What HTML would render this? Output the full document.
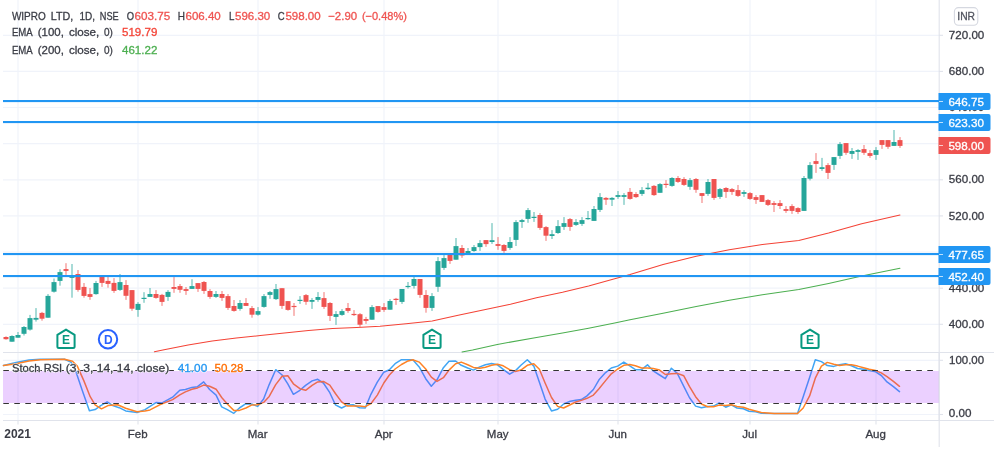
<!DOCTYPE html>
<html><head><meta charset="utf-8"><title>WIPRO LTD chart</title>
<style>
html,body{margin:0;padding:0;background:#fff;width:997px;height:453px;overflow:hidden}
body{font-family:"Liberation Sans",sans-serif}
svg{filter:blur(0.35px)}
</style></head><body>
<svg width="997" height="453" viewBox="0 0 997 453" style="display:block;font-family:'Liberation Sans',sans-serif">
<rect width="997" height="453" fill="#fff"/>
<g stroke="#f0f3fa" stroke-width="1.2" fill="none"><path d="M18 0V420"/><path d="M138 0V420"/><path d="M258 0V420"/><path d="M384 0V420"/><path d="M498 0V420"/><path d="M618 0V420"/><path d="M750 0V420"/><path d="M876 0V420"/><path d="M3 35.3H939"/><path d="M3 71.4H939"/><path d="M3 107.5H939"/><path d="M3 143.7H939"/><path d="M3 179.8H939"/><path d="M3 215.9H939"/><path d="M3 252.1H939"/><path d="M3 288.2H939"/><path d="M3 324.3H939"/><path d="M3 360.3H939"/><path d="M3 414.5H939"/></g>
<g stroke="#e0e3eb" stroke-width="1.1" fill="none"><path d="M3 352.5H994"/><path d="M3 420.5H994"/><path d="M939.2 0V447"/><path d="M18 420V424.5"/><path d="M138 420V424.5"/><path d="M258 420V424.5"/><path d="M384 420V424.5"/><path d="M498 420V424.5"/><path d="M618 420V424.5"/><path d="M750 420V424.5"/><path d="M876 420V424.5"/><path d="M939 35.3H943"/><path d="M939 71.4H943"/><path d="M939 107.5H943"/><path d="M939 143.7H943"/><path d="M939 179.8H943"/><path d="M939 215.9H943"/><path d="M939 252.1H943"/><path d="M939 288.2H943"/><path d="M939 324.3H943"/><path d="M939 360.3H943"/><path d="M939 414.5H943"/></g>
<path d="M154.4 351.8 L164.1 349.8 L188.1 345.0 L212.2 340.9 L236.3 338.0 L260.4 335.6 L284.4 333.0 L308.5 330.6 L332.6 328.6 L356.7 327.4 L380.0 326.3 L406.1 323.8 L432.2 320.9 L458.2 315.2 L484.3 309.7 L510.4 304.2 L536.5 297.7 L562.5 292.2 L588.6 286.0 L614.7 278.7 L630.0 274.5 L663.1 264.5 L696.2 256.3 L729.3 249.7 L762.4 244.4 L798.8 240.4 L828.6 233.1 L861.7 223.8 L900.0 215.0" fill="none" stroke="#f44336" stroke-width="1.05" stroke-linejoin="round" stroke-linecap="round"/>
<path d="M462.0 352.0 L472.6 349.9 L497.3 344.4 L536.5 337.4 L562.5 332.9 L588.6 328.2 L614.7 323.0 L630.0 319.8 L663.1 313.2 L696.2 306.6 L729.3 300.3 L762.4 294.7 L798.8 289.4 L828.6 283.4 L861.7 276.1 L900.0 268.3" fill="none" stroke="#4caf50" stroke-width="1.05" stroke-linejoin="round" stroke-linecap="round"/>
<g stroke-width="1" opacity="0.8"><path d="M6 336.3V339.7" stroke="#ef5350"/><path d="M12 335.3V341.7" stroke="#26a69a"/><path d="M18 332.0V337.7" stroke="#26a69a"/><path d="M24 326.0V335.5" stroke="#26a69a"/><path d="M30 314.9V330.6" stroke="#26a69a"/><path d="M36 308.1V321.6" stroke="#26a69a"/><path d="M42 311.9V320.7" stroke="#ef5350"/><path d="M48 294.1V317.7" stroke="#26a69a"/><path d="M54 278.5V292.6" stroke="#26a69a"/><path d="M60 269.2V285.7" stroke="#26a69a"/><path d="M66 263.2V274.9" stroke="#ef5350"/><path d="M72 264.0V297.7" stroke="#26a69a"/><path d="M78 270.0V291.7" stroke="#ef5350"/><path d="M84 283.0V297.7" stroke="#ef5350"/><path d="M90 288.1V299.8" stroke="#ef5350"/><path d="M96 280.9V294.7" stroke="#26a69a"/><path d="M102 276.0V286.9" stroke="#ef5350"/><path d="M108 277.0V287.7" stroke="#ef5350"/><path d="M114 278.1V292.9" stroke="#ef5350"/><path d="M120 274.0V290.9" stroke="#26a69a"/><path d="M126 280.1V299.9" stroke="#ef5350"/><path d="M132 290.1V310.8" stroke="#ef5350"/><path d="M138 302.1V316.8" stroke="#26a69a"/><path d="M144 292.2V302.8" stroke="#26a69a"/><path d="M150 288.0V296.9" stroke="#26a69a"/><path d="M156 290.1V298.7" stroke="#ef5350"/><path d="M162 293.9V305.9" stroke="#ef5350"/><path d="M168 290.1V300.9" stroke="#26a69a"/><path d="M174 277.1V292.8" stroke="#ef5350"/><path d="M180 284.0V292.8" stroke="#ef5350"/><path d="M186 287.0V294.9" stroke="#ef5350"/><path d="M192 279.2V288.9" stroke="#26a69a"/><path d="M198 283.1V291.9" stroke="#ef5350"/><path d="M204 281.0V293.9" stroke="#ef5350"/><path d="M210 289.1V298.8" stroke="#ef5350"/><path d="M216 291.0V297.9" stroke="#26a69a"/><path d="M222 291.0V300.9" stroke="#ef5350"/><path d="M228 294.0V309.9" stroke="#ef5350"/><path d="M234 300.0V311.7" stroke="#ef5350"/><path d="M240 300.0V310.7" stroke="#26a69a"/><path d="M246 298.1V305.9" stroke="#ef5350"/><path d="M252 306.0V317.7" stroke="#ef5350"/><path d="M258 307.1V315.7" stroke="#26a69a"/><path d="M264 294.0V307.7" stroke="#26a69a"/><path d="M270 291.0V298.8" stroke="#26a69a"/><path d="M276 284.0V300.0" stroke="#26a69a"/><path d="M282 288.2V308.9" stroke="#ef5350"/><path d="M288 301.1V310.7" stroke="#ef5350"/><path d="M294 303.0V315.9" stroke="#ef5350"/><path d="M300 296.1V303.9" stroke="#26a69a"/><path d="M306 294.0V304.8" stroke="#ef5350"/><path d="M312 298.1V308.9" stroke="#26a69a"/><path d="M318 292.1V301.8" stroke="#26a69a"/><path d="M324 292.1V308.9" stroke="#ef5350"/><path d="M330 302.1V321.0" stroke="#ef5350"/><path d="M336 311.1V324.9" stroke="#26a69a"/><path d="M342 309.1V315.8" stroke="#26a69a"/><path d="M348 303.0V312.8" stroke="#ef5350"/><path d="M354 310.1V316.0" stroke="#ef5350"/><path d="M360 313.1V326.9" stroke="#ef5350"/><path d="M366 316.9V323.9" stroke="#ef5350"/><path d="M372 305.1V319.7" stroke="#26a69a"/><path d="M378 306.1V312.7" stroke="#ef5350"/><path d="M384 303.1V311.9" stroke="#ef5350"/><path d="M390 299.1V309.7" stroke="#26a69a"/><path d="M396 297.9V304.9" stroke="#ef5350"/><path d="M402 289.0V303.9" stroke="#26a69a"/><path d="M408 282.0V288.6" stroke="#26a69a"/><path d="M414 277.0V288.6" stroke="#26a69a"/><path d="M420 279.0V297.9" stroke="#ef5350"/><path d="M426 290.1V312.7" stroke="#ef5350"/><path d="M432 293.1V310.9" stroke="#26a69a"/><path d="M438 257.1V291.9" stroke="#26a69a"/><path d="M444 255.1V269.9" stroke="#26a69a"/><path d="M450 254.0V263.9" stroke="#ef5350"/><path d="M456 238.0V259.7" stroke="#26a69a"/><path d="M462 245.0V257.9" stroke="#ef5350"/><path d="M468 248.0V254.0" stroke="#26a69a"/><path d="M474 245.0V251.9" stroke="#26a69a"/><path d="M480 240.1V250.9" stroke="#26a69a"/><path d="M486 240.1V246.8" stroke="#ef5350"/><path d="M492 223.1V243.9" stroke="#26a69a"/><path d="M498 237.1V249.8" stroke="#ef5350"/><path d="M504 244.1V252.8" stroke="#ef5350"/><path d="M510 237.1V249.8" stroke="#26a69a"/><path d="M516 220.1V246.0" stroke="#26a69a"/><path d="M522 218.9V227.9" stroke="#26a69a"/><path d="M528 208.0V222.8" stroke="#26a69a"/><path d="M534 212.0V221.9" stroke="#26a69a"/><path d="M540 213.1V229.9" stroke="#ef5350"/><path d="M546 226.1V240.9" stroke="#ef5350"/><path d="M552 230.1V239.0" stroke="#26a69a"/><path d="M558 220.1V233.9" stroke="#26a69a"/><path d="M564 217.1V229.9" stroke="#26a69a"/><path d="M570 218.0V230.9" stroke="#ef5350"/><path d="M576 219.1V225.9" stroke="#26a69a"/><path d="M582 217.1V225.9" stroke="#26a69a"/><path d="M588 211.0V219.8" stroke="#26a69a"/><path d="M594 206.0V220.9" stroke="#26a69a"/><path d="M600 193.1V212.0" stroke="#26a69a"/><path d="M606 197.1V204.9" stroke="#ef5350"/><path d="M612 197.1V206.0" stroke="#26a69a"/><path d="M618 191.0V198.9" stroke="#26a69a"/><path d="M624 193.1V204.9" stroke="#26a69a"/><path d="M630 188.0V199.7" stroke="#ef5350"/><path d="M636 192.1V197.9" stroke="#ef5350"/><path d="M642 187.1V195.9" stroke="#26a69a"/><path d="M648 183.1V189.8" stroke="#26a69a"/><path d="M654 185.0V195.9" stroke="#ef5350"/><path d="M660 183.1V192.8" stroke="#26a69a"/><path d="M666 180.1V187.9" stroke="#ef5350"/><path d="M672 177.1V186.8" stroke="#26a69a"/><path d="M678 176.0V182.9" stroke="#ef5350"/><path d="M684 177.1V185.9" stroke="#ef5350"/><path d="M690 178.0V189.8" stroke="#26a69a"/><path d="M696 178.0V192.8" stroke="#ef5350"/><path d="M702 193.1V203.0" stroke="#ef5350"/><path d="M708 179.0V195.9" stroke="#26a69a"/><path d="M714 179.0V199.9" stroke="#ef5350"/><path d="M720 188.0V198.9" stroke="#26a69a"/><path d="M726 187.1V197.9" stroke="#ef5350"/><path d="M732 188.0V194.9" stroke="#ef5350"/><path d="M738 185.0V196.9" stroke="#ef5350"/><path d="M744 190.1V196.9" stroke="#26a69a"/><path d="M750 192.1V199.9" stroke="#ef5350"/><path d="M756 195.1V203.9" stroke="#ef5350"/><path d="M762 195.1V201.9" stroke="#ef5350"/><path d="M768 199.1V206.0" stroke="#ef5350"/><path d="M774 201.1V212.0" stroke="#ef5350"/><path d="M780 200.1V209.0" stroke="#ef5350"/><path d="M786 206.1V212.9" stroke="#ef5350"/><path d="M792 204.2V213.9" stroke="#ef5350"/><path d="M798 207.2V213.9" stroke="#ef5350"/><path d="M804 176.0V210.9" stroke="#26a69a"/><path d="M810 162.1V180.4" stroke="#26a69a"/><path d="M816 153.1V172.9" stroke="#ef5350"/><path d="M822 157.9V170.9" stroke="#26a69a"/><path d="M828 163.1V179.0" stroke="#ef5350"/><path d="M834 157.1V169.9" stroke="#26a69a"/><path d="M840 142.0V158.9" stroke="#26a69a"/><path d="M846 143.1V154.9" stroke="#ef5350"/><path d="M852 148.0V158.9" stroke="#26a69a"/><path d="M858 149.1V159.9" stroke="#26a69a"/><path d="M864 145.0V154.9" stroke="#ef5350"/><path d="M870 150.1V157.9" stroke="#ef5350"/><path d="M876 147.1V159.9" stroke="#26a69a"/><path d="M882 140.1V148.9" stroke="#ef5350"/><path d="M888 140.1V148.9" stroke="#ef5350"/><path d="M894 130.0V145.9" stroke="#26a69a"/><path d="M900 137.1V147.9" stroke="#ef5350"/></g>
<g><rect x="3.5" y="337.0" width="5" height="2.2" fill="#ef5350"/><rect x="9.5" y="336.0" width="5" height="5.7" fill="#26a69a"/><rect x="15.5" y="335.0" width="5" height="2.7" fill="#26a69a"/><rect x="21.5" y="327.0" width="5" height="6.8" fill="#26a69a"/><rect x="27.5" y="318.1" width="5" height="11.5" fill="#26a69a"/><rect x="33.5" y="317.9" width="5" height="1.8" fill="#26a69a"/><rect x="39.5" y="312.9" width="5" height="5.8" fill="#ef5350"/><rect x="45.5" y="295.9" width="5" height="21.8" fill="#26a69a"/><rect x="51.5" y="282.1" width="5" height="9.6" fill="#26a69a"/><rect x="57.5" y="272.1" width="5" height="8.8" fill="#26a69a"/><rect x="63.5" y="269.1" width="5" height="1.8" fill="#ef5350"/><rect x="69.5" y="276.4" width="5" height="1.5" fill="#26a69a"/><rect x="75.5" y="274.0" width="5" height="15.9" fill="#ef5350"/><rect x="81.5" y="286.9" width="5" height="9.0" fill="#ef5350"/><rect x="87.5" y="294.1" width="5" height="2.8" fill="#ef5350"/><rect x="93.5" y="283.0" width="5" height="11.1" fill="#26a69a"/><rect x="99.5" y="276.0" width="5" height="6.9" fill="#ef5350"/><rect x="105.5" y="280.9" width="5" height="3.0" fill="#ef5350"/><rect x="111.5" y="282.9" width="5" height="8.0" fill="#ef5350"/><rect x="117.5" y="282.1" width="5" height="7.8" fill="#26a69a"/><rect x="123.5" y="285.0" width="5" height="10.8" fill="#ef5350"/><rect x="129.5" y="290.1" width="5" height="18.6" fill="#ef5350"/><rect x="135.5" y="303.9" width="5" height="6.0" fill="#26a69a"/><rect x="141.5" y="297.8" width="5" height="1.2" fill="#26a69a"/><rect x="147.5" y="294.0" width="5" height="2.9" fill="#26a69a"/><rect x="153.5" y="294.0" width="5" height="3.9" fill="#ef5350"/><rect x="159.5" y="294.9" width="5" height="7.0" fill="#ef5350"/><rect x="165.5" y="291.9" width="5" height="5.0" fill="#26a69a"/><rect x="171.5" y="287.0" width="5" height="1.9" fill="#ef5350"/><rect x="177.5" y="286.1" width="5" height="3.7" fill="#ef5350"/><rect x="183.5" y="289.1" width="5" height="1.8" fill="#ef5350"/><rect x="189.5" y="286.1" width="5" height="2.8" fill="#26a69a"/><rect x="195.5" y="283.1" width="5" height="5.8" fill="#ef5350"/><rect x="201.5" y="282.0" width="5" height="8.9" fill="#ef5350"/><rect x="207.5" y="291.0" width="5" height="5.9" fill="#ef5350"/><rect x="213.5" y="294.0" width="5" height="2.9" fill="#26a69a"/><rect x="219.5" y="294.0" width="5" height="3.9" fill="#ef5350"/><rect x="225.5" y="296.1" width="5" height="11.8" fill="#ef5350"/><rect x="231.5" y="306.0" width="5" height="4.9" fill="#ef5350"/><rect x="237.5" y="303.0" width="5" height="5.9" fill="#26a69a"/><rect x="243.5" y="303.0" width="5" height="2.9" fill="#ef5350"/><rect x="249.5" y="308.1" width="5" height="6.6" fill="#ef5350"/><rect x="255.5" y="311.1" width="5" height="3.6" fill="#26a69a"/><rect x="261.5" y="296.1" width="5" height="10.8" fill="#26a69a"/><rect x="267.5" y="292.1" width="5" height="2.8" fill="#26a69a"/><rect x="273.5" y="289.1" width="5" height="10.0" fill="#26a69a"/><rect x="279.5" y="288.2" width="5" height="17.7" fill="#ef5350"/><rect x="285.5" y="301.1" width="5" height="8.8" fill="#ef5350"/><rect x="291.5" y="305.9" width="5" height="1.2" fill="#ef5350"/><rect x="297.5" y="299.8" width="5" height="1.2" fill="#26a69a"/><rect x="303.5" y="295.1" width="5" height="6.7" fill="#ef5350"/><rect x="309.5" y="300.0" width="5" height="1.8" fill="#26a69a"/><rect x="315.5" y="297.0" width="5" height="2.9" fill="#26a69a"/><rect x="321.5" y="298.1" width="5" height="8.8" fill="#ef5350"/><rect x="327.5" y="303.0" width="5" height="12.9" fill="#ef5350"/><rect x="333.5" y="314.1" width="5" height="2.8" fill="#26a69a"/><rect x="339.5" y="311.1" width="5" height="3.8" fill="#26a69a"/><rect x="345.5" y="308.0" width="5" height="2.9" fill="#ef5350"/><rect x="351.5" y="313.9" width="5" height="1.2" fill="#ef5350"/><rect x="357.5" y="314.2" width="5" height="10.5" fill="#ef5350"/><rect x="363.5" y="319.0" width="5" height="1.9" fill="#ef5350"/><rect x="369.5" y="307.1" width="5" height="12.6" fill="#26a69a"/><rect x="375.5" y="306.1" width="5" height="5.8" fill="#ef5350"/><rect x="381.5" y="307.1" width="5" height="2.8" fill="#ef5350"/><rect x="387.5" y="301.0" width="5" height="8.7" fill="#26a69a"/><rect x="393.5" y="298.8" width="5" height="1.2" fill="#ef5350"/><rect x="399.5" y="289.0" width="5" height="12.9" fill="#26a69a"/><rect x="405.5" y="285.9" width="5" height="1.2" fill="#26a69a"/><rect x="411.5" y="279.0" width="5" height="6.9" fill="#26a69a"/><rect x="417.5" y="279.0" width="5" height="15.9" fill="#ef5350"/><rect x="423.5" y="295.0" width="5" height="12.9" fill="#ef5350"/><rect x="429.5" y="296.1" width="5" height="11.8" fill="#26a69a"/><rect x="435.5" y="261.1" width="5" height="25.7" fill="#26a69a"/><rect x="441.5" y="258.1" width="5" height="9.8" fill="#26a69a"/><rect x="447.5" y="254.0" width="5" height="6.9" fill="#ef5350"/><rect x="453.5" y="246.1" width="5" height="13.6" fill="#26a69a"/><rect x="459.5" y="248.0" width="5" height="7.5" fill="#ef5350"/><rect x="465.5" y="251.0" width="5" height="2.1" fill="#26a69a"/><rect x="471.5" y="247.1" width="5" height="3.9" fill="#26a69a"/><rect x="477.5" y="243.1" width="5" height="4.0" fill="#26a69a"/><rect x="483.5" y="240.1" width="5" height="4.0" fill="#ef5350"/><rect x="489.5" y="240.2" width="5" height="1.8" fill="#26a69a"/><rect x="495.5" y="244.1" width="5" height="1.8" fill="#ef5350"/><rect x="501.5" y="245.0" width="5" height="5.9" fill="#ef5350"/><rect x="507.5" y="242.0" width="5" height="5.9" fill="#26a69a"/><rect x="513.5" y="222.1" width="5" height="17.8" fill="#26a69a"/><rect x="519.5" y="220.1" width="5" height="1.8" fill="#26a69a"/><rect x="525.5" y="210.1" width="5" height="8.8" fill="#26a69a"/><rect x="531.5" y="216.8" width="5" height="1.2" fill="#26a69a"/><rect x="537.5" y="215.0" width="5" height="12.9" fill="#ef5350"/><rect x="543.5" y="227.1" width="5" height="8.6" fill="#ef5350"/><rect x="549.5" y="234.2" width="5" height="1.8" fill="#26a69a"/><rect x="555.5" y="226.1" width="5" height="6.9" fill="#26a69a"/><rect x="561.5" y="223.1" width="5" height="3.8" fill="#26a69a"/><rect x="567.5" y="219.1" width="5" height="7.8" fill="#ef5350"/><rect x="573.5" y="222.1" width="5" height="2.8" fill="#26a69a"/><rect x="579.5" y="220.1" width="5" height="3.8" fill="#26a69a"/><rect x="585.5" y="218.0" width="5" height="1.2" fill="#26a69a"/><rect x="591.5" y="209.0" width="5" height="11.9" fill="#26a69a"/><rect x="597.5" y="197.1" width="5" height="12.8" fill="#26a69a"/><rect x="603.5" y="197.9" width="5" height="1.8" fill="#ef5350"/><rect x="609.5" y="197.9" width="5" height="1.8" fill="#26a69a"/><rect x="615.5" y="195.1" width="5" height="1.8" fill="#26a69a"/><rect x="621.5" y="195.1" width="5" height="1.8" fill="#26a69a"/><rect x="627.5" y="191.9" width="5" height="7.0" fill="#ef5350"/><rect x="633.5" y="194.0" width="5" height="3.1" fill="#ef5350"/><rect x="639.5" y="190.1" width="5" height="3.8" fill="#26a69a"/><rect x="645.5" y="187.7" width="5" height="1.4" fill="#26a69a"/><rect x="651.5" y="185.9" width="5" height="9.2" fill="#ef5350"/><rect x="657.5" y="184.1" width="5" height="8.7" fill="#26a69a"/><rect x="663.5" y="183.8" width="5" height="1.2" fill="#ef5350"/><rect x="669.5" y="178.0" width="5" height="7.9" fill="#26a69a"/><rect x="675.5" y="178.0" width="5" height="3.9" fill="#ef5350"/><rect x="681.5" y="179.0" width="5" height="5.9" fill="#ef5350"/><rect x="687.5" y="180.1" width="5" height="6.7" fill="#26a69a"/><rect x="693.5" y="179.0" width="5" height="10.8" fill="#ef5350"/><rect x="699.5" y="193.1" width="5" height="2.8" fill="#ef5350"/><rect x="705.5" y="182.0" width="5" height="11.9" fill="#26a69a"/><rect x="711.5" y="179.0" width="5" height="18.9" fill="#ef5350"/><rect x="717.5" y="189.1" width="5" height="7.8" fill="#26a69a"/><rect x="723.5" y="188.0" width="5" height="3.9" fill="#ef5350"/><rect x="729.5" y="189.1" width="5" height="2.8" fill="#ef5350"/><rect x="735.5" y="190.1" width="5" height="5.8" fill="#ef5350"/><rect x="741.5" y="192.1" width="5" height="1.8" fill="#26a69a"/><rect x="747.5" y="193.1" width="5" height="5.8" fill="#ef5350"/><rect x="753.5" y="197.1" width="5" height="2.8" fill="#ef5350"/><rect x="759.5" y="195.1" width="5" height="6.8" fill="#ef5350"/><rect x="765.5" y="200.1" width="5" height="4.8" fill="#ef5350"/><rect x="771.5" y="203.1" width="5" height="1.8" fill="#ef5350"/><rect x="777.5" y="203.1" width="5" height="2.9" fill="#ef5350"/><rect x="783.5" y="209.1" width="5" height="1.8" fill="#ef5350"/><rect x="789.5" y="206.1" width="5" height="4.8" fill="#ef5350"/><rect x="795.5" y="208.1" width="5" height="3.9" fill="#ef5350"/><rect x="801.5" y="178.0" width="5" height="32.9" fill="#26a69a"/><rect x="807.5" y="165.1" width="5" height="13.6" fill="#26a69a"/><rect x="813.5" y="161.1" width="5" height="2.8" fill="#ef5350"/><rect x="819.5" y="167.2" width="5" height="1.8" fill="#26a69a"/><rect x="825.5" y="165.1" width="5" height="7.8" fill="#ef5350"/><rect x="831.5" y="157.1" width="5" height="7.8" fill="#26a69a"/><rect x="837.5" y="144.1" width="5" height="11.8" fill="#26a69a"/><rect x="843.5" y="143.1" width="5" height="9.7" fill="#ef5350"/><rect x="849.5" y="151.0" width="5" height="2.9" fill="#26a69a"/><rect x="855.5" y="150.1" width="5" height="1.8" fill="#26a69a"/><rect x="861.5" y="149.1" width="5" height="3.7" fill="#ef5350"/><rect x="867.5" y="153.1" width="5" height="2.8" fill="#ef5350"/><rect x="873.5" y="150.1" width="5" height="4.8" fill="#26a69a"/><rect x="879.5" y="140.1" width="5" height="4.8" fill="#ef5350"/><rect x="885.5" y="140.1" width="5" height="6.7" fill="#ef5350"/><rect x="891.5" y="142.0" width="5" height="3.9" fill="#26a69a"/><rect x="897.5" y="140.1" width="5" height="5.8" fill="#ef5350"/></g>
<rect x="3" y="100" width="936" height="2.1" fill="#2196f3"/>
<rect x="3" y="121" width="936" height="2.1" fill="#2196f3"/>
<rect x="3" y="253" width="936" height="2.1" fill="#2196f3"/>
<rect x="3" y="275" width="936" height="2.1" fill="#2196f3"/>
<g opacity="0.85"><path d="M3.5 365.6 L16.1 362.6 L29.0 360.0 L40.3 359.3 L64.5 359.3 L70.9 362.1 L75.7 370.9 L82.2 390.3 L89.4 410.7 L95.1 409.6 L100.7 405.6 L107.2 401.9 L112.8 405.6 L119.2 407.7 L125.7 410.9 L137.0 412.5 L145.0 409.6 L150.0 406.4 L156.4 402.4 L162.1 402.9 L172.6 397.2 L179.8 390.3 L185.4 389.5 L191.9 387.4 L197.5 386.7 L203.7 381.9 L209.6 389.5 L216.1 395.1 L221.7 406.9 L227.3 409.6 L233.8 413.3 L239.4 408.0 L245.9 403.7 L251.5 404.0 L257.6 406.4 L263.6 399.1 L269.2 384.6 L275.7 369.7 L282.1 375.0 L287.8 383.8 L293.4 394.3 L299.9 390.3 L305.6 385.4 L312.1 380.9 L317.7 379.3 L323.4 383.0 L329.8 392.7 L335.4 404.8 L341.6 408.0 L347.5 405.1 L353.2 404.8 L359.6 407.7 L365.3 408.0 L370.9 394.3 L377.3 382.2 L383.8 372.2 L389.4 369.7 L395.1 363.7 L401.5 359.7 L412.8 359.7 L419.2 366.9 L425.7 378.7 L431.3 386.3 L437.0 379.8 L443.4 367.7 L449.0 361.3 L455.6 361.0 L461.3 365.3 L467.7 368.0 L473.4 370.1 L479.8 366.9 L485.4 364.8 L491.6 363.4 L497.5 364.8 L503.2 369.3 L509.6 374.2 L515.3 370.9 L520.9 365.3 L527.3 359.7 L533.8 366.1 L539.4 382.2 L545.1 399.1 L551.5 410.9 L557.6 409.3 L563.6 404.0 L569.2 401.6 L575.7 400.3 L581.3 399.6 L587.0 395.9 L593.4 389.5 L599.0 379.8 L605.6 372.6 L611.3 368.0 L617.7 366.1 L623.8 362.1 L629.8 365.8 L635.4 369.7 L641.6 369.7 L647.5 364.8 L653.2 370.9 L659.6 375.0 L665.3 378.7 L671.4 368.2 L677.3 373.4 L683.8 386.3 L689.4 397.5 L695.6 406.1 L701.5 407.7 L707.6 406.4 L713.6 406.1 L719.2 402.9 L725.7 407.2 L731.3 404.8 L737.0 408.0 L743.4 408.8 L749.0 411.2 L755.6 411.7 L761.3 413.2 L774.2 413.5 L797.5 413.5 L803.2 396.7 L809.6 377.4 L815.3 359.7 L821.4 361.6 L827.3 365.6 L833.8 366.4 L839.4 364.8 L845.6 363.7 L851.5 365.8 L857.6 368.5 L863.6 369.3 L869.2 370.6 L875.7 371.8 L881.3 375.5 L887.0 381.9 L893.4 386.7 L899.5 391.6" fill="none" stroke="#2196f3" stroke-width="1.5" stroke-linejoin="round" stroke-linecap="round"/><path d="M3.5 365.6 L16.1 363.7 L29.0 361.0 L40.3 359.7 L64.5 359.3 L72.5 361.3 L77.3 366.1 L83.8 380.6 L90.2 396.7 L95.1 404.8 L101.5 408.8 L108.0 405.6 L117.6 404.8 L125.7 408.3 L137.0 411.7 L145.0 410.9 L150.0 409.9 L159.7 404.8 L172.6 399.6 L179.8 394.8 L185.4 391.9 L191.9 389.2 L197.5 387.9 L203.7 385.1 L209.6 386.3 L216.1 389.2 L221.7 397.5 L227.3 404.0 L233.8 410.4 L239.4 410.4 L245.9 408.0 L251.5 405.1 L257.6 404.8 L263.6 402.4 L269.2 396.4 L275.7 384.6 L282.1 376.3 L287.8 375.8 L293.4 383.8 L299.9 388.7 L305.6 390.3 L312.1 385.4 L317.7 381.9 L323.4 381.4 L329.8 385.1 L335.4 393.5 L341.6 401.9 L347.5 406.1 L353.2 406.1 L359.6 405.9 L365.3 406.7 L370.9 403.7 L377.3 395.1 L383.8 383.0 L389.4 375.0 L395.1 369.0 L401.5 364.5 L407.2 361.3 L412.8 359.7 L419.2 362.1 L425.7 369.0 L431.3 377.1 L437.0 381.4 L443.4 377.7 L449.0 370.1 L455.6 363.7 L461.3 362.1 L467.7 364.8 L473.4 367.4 L479.8 368.2 L485.4 367.2 L491.6 365.3 L497.5 364.2 L503.2 365.8 L509.6 369.7 L515.3 371.4 L520.9 370.1 L527.3 365.3 L533.8 363.7 L539.4 369.3 L545.1 383.0 L551.5 397.5 L557.6 406.4 L563.6 408.0 L569.2 405.3 L575.7 402.0 L581.3 400.4 L587.0 398.3 L593.4 395.1 L599.0 388.7 L605.6 380.6 L611.3 373.8 L617.7 369.0 L623.8 365.3 L629.8 364.5 L635.4 365.8 L641.6 368.0 L647.5 368.0 L653.2 368.5 L659.6 370.1 L665.3 374.5 L671.4 373.8 L677.3 373.4 L683.8 375.8 L689.4 386.3 L695.6 396.7 L701.5 404.0 L707.6 406.7 L713.6 406.7 L719.2 405.1 L725.7 405.6 L731.3 404.8 L737.0 406.4 L743.4 407.2 L749.0 409.3 L755.6 410.9 L761.3 412.4 L774.2 413.5 L797.5 413.5 L803.2 408.0 L809.6 395.9 L815.3 378.2 L821.4 366.1 L827.3 362.4 L833.8 364.2 L839.4 365.6 L845.6 364.8 L851.5 364.8 L857.6 366.1 L863.6 367.7 L869.2 369.3 L875.7 370.6 L881.3 372.9 L887.0 376.6 L893.4 381.4 L899.5 386.3" fill="none" stroke="#ff6d00" stroke-width="1.5" stroke-linejoin="round" stroke-linecap="round"/></g>
<rect x="3" y="371" width="936" height="32" fill="#9915ff" fill-opacity="0.2"/>
<g stroke="#333" stroke-width="1" stroke-dasharray="5.6 5.4" fill="none"><path d="M3.3 370.5H934"/><path d="M3.3 403.5H934"/></g>
<path d="M939.2 352V421" stroke="#e0e3eb" stroke-width="1.1"/>
<g transform="translate(66,0)"><path d="M-8.6 334.8 L0 329.6 L8.6 334.8 V346.4 Q8.6 347.9 7.1 347.9 H-7.1 Q-8.6 347.9 -8.6 346.4 Z" fill="#fff" stroke="#089981" stroke-width="2" stroke-linejoin="round"/><text x="0" y="343.8" text-anchor="middle" font-size="12" font-weight="bold" fill="#089981">E</text></g>
<g transform="translate(432,0)"><path d="M-8.6 334.8 L0 329.6 L8.6 334.8 V346.4 Q8.6 347.9 7.1 347.9 H-7.1 Q-8.6 347.9 -8.6 346.4 Z" fill="#fff" stroke="#089981" stroke-width="2" stroke-linejoin="round"/><text x="0" y="343.8" text-anchor="middle" font-size="12" font-weight="bold" fill="#089981">E</text></g>
<g transform="translate(810,0)"><path d="M-8.6 334.8 L0 329.6 L8.6 334.8 V346.4 Q8.6 347.9 7.1 347.9 H-7.1 Q-8.6 347.9 -8.6 346.4 Z" fill="#fff" stroke="#089981" stroke-width="2" stroke-linejoin="round"/><text x="0" y="343.8" text-anchor="middle" font-size="12" font-weight="bold" fill="#089981">E</text></g>
<circle cx="108" cy="339.3" r="9.2" fill="#fff" stroke="#2962ff" stroke-width="2"/><text x="108.4" y="343.8" text-anchor="middle" font-size="12" font-weight="bold" fill="#2962ff">D</text>
<text x="11.9" y="19.6" font-size="11.5" fill="#3a3c45" textLength="33.9" lengthAdjust="spacingAndGlyphs" stroke="#3a3c45" stroke-width="0.3" xml:space="preserve">WIPRO</text>
<text x="50.8" y="19.6" font-size="11.5" fill="#3a3c45" textLength="22.5" lengthAdjust="spacingAndGlyphs" stroke="#3a3c45" stroke-width="0.3" xml:space="preserve">LTD,</text>
<text x="79.4" y="19.6" font-size="11.5" fill="#3a3c45" textLength="15.6" lengthAdjust="spacingAndGlyphs" stroke="#3a3c45" stroke-width="0.3" xml:space="preserve">1D,</text>
<text x="99.8" y="19.6" font-size="11.5" fill="#3a3c45" textLength="18.9" lengthAdjust="spacingAndGlyphs" stroke="#3a3c45" stroke-width="0.3" xml:space="preserve">NSE</text>
<text x="126.8" y="19.6" font-size="11.5" fill="#3a3c45" textLength="7.3" lengthAdjust="spacingAndGlyphs" stroke="#3a3c45" stroke-width="0.3" xml:space="preserve">O</text>
<text x="134.5" y="19.6" font-size="11.5" fill="#ef5350" textLength="35.7" lengthAdjust="spacingAndGlyphs" stroke="#ef5350" stroke-width="0.3" xml:space="preserve">603.75</text>
<text x="177.8" y="19.6" font-size="11.5" fill="#3a3c45" textLength="7.2" lengthAdjust="spacingAndGlyphs" stroke="#3a3c45" stroke-width="0.3" xml:space="preserve">H</text>
<text x="185.5" y="19.6" font-size="11.5" fill="#ef5350" textLength="35.3" lengthAdjust="spacingAndGlyphs" stroke="#ef5350" stroke-width="0.3" xml:space="preserve">606.40</text>
<text x="228.9" y="19.6" font-size="11.5" fill="#3a3c45" textLength="5.4" lengthAdjust="spacingAndGlyphs" stroke="#3a3c45" stroke-width="0.3" xml:space="preserve">L</text>
<text x="235.0" y="19.6" font-size="11.5" fill="#ef5350" textLength="35.3" lengthAdjust="spacingAndGlyphs" stroke="#ef5350" stroke-width="0.3" xml:space="preserve">596.30</text>
<text x="277.7" y="19.6" font-size="11.5" fill="#3a3c45" textLength="6.9" lengthAdjust="spacingAndGlyphs" stroke="#3a3c45" stroke-width="0.3" xml:space="preserve">C</text>
<text x="285.4" y="19.6" font-size="11.5" fill="#ef5350" textLength="35.3" lengthAdjust="spacingAndGlyphs" stroke="#ef5350" stroke-width="0.3" xml:space="preserve">598.00</text>
<text x="328.2" y="19.6" font-size="11.5" fill="#ef5350" textLength="28.9" lengthAdjust="spacingAndGlyphs" stroke="#ef5350" stroke-width="0.3" xml:space="preserve">−2.90</text>
<text x="361.9" y="19.6" font-size="11.5" fill="#ef5350" textLength="45.0" lengthAdjust="spacingAndGlyphs" stroke="#ef5350" stroke-width="0.3" xml:space="preserve">(−0.48%)</text>
<text x="11.9" y="36.4" font-size="11.5" fill="#3a3c45" textLength="20.8" lengthAdjust="spacingAndGlyphs" stroke="#3a3c45" stroke-width="0.3" xml:space="preserve">EMA</text>
<text x="37.8" y="36.4" font-size="11.5" fill="#3a3c45" textLength="26.1" lengthAdjust="spacingAndGlyphs" stroke="#3a3c45" stroke-width="0.3" xml:space="preserve">(100,</text>
<text x="68.9" y="36.4" font-size="11.5" fill="#3a3c45" textLength="30.4" lengthAdjust="spacingAndGlyphs" stroke="#3a3c45" stroke-width="0.3" xml:space="preserve">close,</text>
<text x="104.0" y="36.4" font-size="11.5" fill="#3a3c45" textLength="8.9" lengthAdjust="spacingAndGlyphs" stroke="#3a3c45" stroke-width="0.3" xml:space="preserve">0)</text>
<text x="122" y="36.4" font-size="11.5" fill="#f44336" textLength="35.4" lengthAdjust="spacingAndGlyphs" stroke="#f44336" stroke-width="0.3" xml:space="preserve">519.79</text>
<text x="11.9" y="53.5" font-size="11.5" fill="#3a3c45" textLength="20.8" lengthAdjust="spacingAndGlyphs" stroke="#3a3c45" stroke-width="0.3" xml:space="preserve">EMA</text>
<text x="37.8" y="53.5" font-size="11.5" fill="#3a3c45" textLength="26.1" lengthAdjust="spacingAndGlyphs" stroke="#3a3c45" stroke-width="0.3" xml:space="preserve">(200,</text>
<text x="68.9" y="53.5" font-size="11.5" fill="#3a3c45" textLength="30.4" lengthAdjust="spacingAndGlyphs" stroke="#3a3c45" stroke-width="0.3" xml:space="preserve">close,</text>
<text x="104.0" y="53.5" font-size="11.5" fill="#3a3c45" textLength="8.9" lengthAdjust="spacingAndGlyphs" stroke="#3a3c45" stroke-width="0.3" xml:space="preserve">0)</text>
<text x="122" y="53.5" font-size="11.5" fill="#4caf50" textLength="35.4" lengthAdjust="spacingAndGlyphs" stroke="#4caf50" stroke-width="0.3" xml:space="preserve">461.22</text>
<text x="12.1" y="371.9" font-size="11.5" fill="#fff" stroke="#fff" stroke-width="1.6" stroke-opacity="0.8" stroke-linejoin="round" textLength="50.1" lengthAdjust="spacingAndGlyphs" xml:space="preserve">Stoch RSI</text><text x="12.1" y="371.9" font-size="11.5" fill="#3a3c45" textLength="50.1" lengthAdjust="spacingAndGlyphs" stroke="#3a3c45" stroke-width="0.3" xml:space="preserve">Stoch RSI</text>
<text x="65.8" y="371.9" font-size="11.5" fill="#fff" stroke="#fff" stroke-width="1.6" stroke-opacity="0.8" stroke-linejoin="round" textLength="103.4" lengthAdjust="spacingAndGlyphs" xml:space="preserve">(3, 3, 14, 14, close)</text><text x="65.8" y="371.9" font-size="11.5" fill="#3a3c45" textLength="103.4" lengthAdjust="spacingAndGlyphs" stroke="#3a3c45" stroke-width="0.3" xml:space="preserve">(3, 3, 14, 14, close)</text>
<text x="177.7" y="371.9" font-size="11.5" fill="#fff" stroke="#fff" stroke-width="1.6" stroke-opacity="0.8" stroke-linejoin="round" textLength="29.5" lengthAdjust="spacingAndGlyphs" xml:space="preserve">41.00</text><text x="177.7" y="371.9" font-size="11.5" fill="#2196f3" textLength="29.5" lengthAdjust="spacingAndGlyphs" stroke="#2196f3" stroke-width="0.3" xml:space="preserve">41.00</text>
<text x="214.5" y="371.9" font-size="11.5" fill="#fff" stroke="#fff" stroke-width="1.6" stroke-opacity="0.8" stroke-linejoin="round" textLength="29.0" lengthAdjust="spacingAndGlyphs" xml:space="preserve">50.28</text><text x="214.5" y="371.9" font-size="11.5" fill="#ff6d00" textLength="29.0" lengthAdjust="spacingAndGlyphs" stroke="#ff6d00" stroke-width="0.3" xml:space="preserve">50.28</text>
<text x="948.8" y="38.9" font-size="11.5" fill="#3a3c45" textLength="35.5" lengthAdjust="spacingAndGlyphs" stroke="#3a3c45" stroke-width="0.3" xml:space="preserve">720.00</text>
<text x="948.8" y="75.0" font-size="11.5" fill="#3a3c45" textLength="35.5" lengthAdjust="spacingAndGlyphs" stroke="#3a3c45" stroke-width="0.3" xml:space="preserve">680.00</text>
<text x="948.8" y="111.1" font-size="11.5" fill="#3a3c45" textLength="35.5" lengthAdjust="spacingAndGlyphs" stroke="#3a3c45" stroke-width="0.3" xml:space="preserve">640.00</text>
<text x="948.8" y="147.3" font-size="11.5" fill="#3a3c45" textLength="35.5" lengthAdjust="spacingAndGlyphs" stroke="#3a3c45" stroke-width="0.3" xml:space="preserve">600.00</text>
<text x="948.8" y="183.4" font-size="11.5" fill="#3a3c45" textLength="35.5" lengthAdjust="spacingAndGlyphs" stroke="#3a3c45" stroke-width="0.3" xml:space="preserve">560.00</text>
<text x="948.8" y="219.5" font-size="11.5" fill="#3a3c45" textLength="35.5" lengthAdjust="spacingAndGlyphs" stroke="#3a3c45" stroke-width="0.3" xml:space="preserve">520.00</text>
<text x="948.8" y="255.7" font-size="11.5" fill="#3a3c45" textLength="35.5" lengthAdjust="spacingAndGlyphs" stroke="#3a3c45" stroke-width="0.3" xml:space="preserve">480.00</text>
<text x="948.8" y="291.8" font-size="11.5" fill="#3a3c45" textLength="35.5" lengthAdjust="spacingAndGlyphs" stroke="#3a3c45" stroke-width="0.3" xml:space="preserve">440.00</text>
<text x="948.8" y="327.9" font-size="11.5" fill="#3a3c45" textLength="35.5" lengthAdjust="spacingAndGlyphs" stroke="#3a3c45" stroke-width="0.3" xml:space="preserve">400.00</text>
<text x="949.1" y="363.6" font-size="11.5" fill="#3a3c45" textLength="35.0" lengthAdjust="spacingAndGlyphs" stroke="#3a3c45" stroke-width="0.3" xml:space="preserve">100.00</text>
<text x="948.8" y="417.4" font-size="11.5" fill="#3a3c45" textLength="22.7" lengthAdjust="spacingAndGlyphs" stroke="#3a3c45" stroke-width="0.3" xml:space="preserve">0.00</text>
<rect x="954.4" y="7.6" width="23.4" height="17.6" rx="4" fill="#fff" stroke="#d5d8e0" stroke-width="1.1"/>
<text x="957.3" y="20.4" font-size="11" fill="#50535e" textLength="17.7" lengthAdjust="spacingAndGlyphs" stroke="#50535e" stroke-width="0.3" xml:space="preserve">INR</text>
<path d="M938.5 93.1H988.5a2 2 0 0 1 2 2V107.9a2 2 0 0 1 -2 2H938.5Z" fill="#2196f3"/><path d="M939 101.5H943" stroke="#fff" stroke-opacity="0.7" stroke-width="1"/><text x="948.4" y="105.7" font-size="11.5" fill="#fff" textLength="35.6" lengthAdjust="spacingAndGlyphs" stroke="#fff" stroke-width="0.3" xml:space="preserve">646.75</text>
<path d="M938.5 114.1H988.5a2 2 0 0 1 2 2V128.9a2 2 0 0 1 -2 2H938.5Z" fill="#2196f3"/><path d="M939 122.5H943" stroke="#fff" stroke-opacity="0.7" stroke-width="1"/><text x="948.4" y="126.7" font-size="11.5" fill="#fff" textLength="35.6" lengthAdjust="spacingAndGlyphs" stroke="#fff" stroke-width="0.3" xml:space="preserve">623.30</text>
<path d="M938.5 246.1H988.5a2 2 0 0 1 2 2V260.9a2 2 0 0 1 -2 2H938.5Z" fill="#2196f3"/><path d="M939 254.5H943" stroke="#fff" stroke-opacity="0.7" stroke-width="1"/><text x="948.4" y="258.7" font-size="11.5" fill="#fff" textLength="35.6" lengthAdjust="spacingAndGlyphs" stroke="#fff" stroke-width="0.3" xml:space="preserve">477.65</text>
<path d="M938.5 268.1H988.5a2 2 0 0 1 2 2V282.9a2 2 0 0 1 -2 2H938.5Z" fill="#2196f3"/><path d="M939 276.5H943" stroke="#fff" stroke-opacity="0.7" stroke-width="1"/><text x="948.4" y="280.7" font-size="11.5" fill="#fff" textLength="35.6" lengthAdjust="spacingAndGlyphs" stroke="#fff" stroke-width="0.3" xml:space="preserve">452.40</text>
<path d="M938.5 137.1H988.5a2 2 0 0 1 2 2V151.9a2 2 0 0 1 -2 2H938.5Z" fill="#ef5350"/><path d="M939 145.5H943" stroke="#fff" stroke-opacity="0.7" stroke-width="1"/><text x="948.4" y="149.7" font-size="11.5" fill="#fff" textLength="35.6" lengthAdjust="spacingAndGlyphs" stroke="#fff" stroke-width="0.3" xml:space="preserve">598.00</text>
<text x="17.6" y="438" font-size="12" font-weight="bold" fill="#3a3c45" text-anchor="middle">2021</text>
<text x="137.7" y="438" font-size="11.5" fill="#3a3c45" stroke="#3a3c45" stroke-width="0.3" text-anchor="middle">Feb</text>
<text x="257.7" y="438" font-size="11.5" fill="#3a3c45" stroke="#3a3c45" stroke-width="0.3" text-anchor="middle">Mar</text>
<text x="383.7" y="438" font-size="11.5" fill="#3a3c45" stroke="#3a3c45" stroke-width="0.3" text-anchor="middle">Apr</text>
<text x="497.7" y="438" font-size="11.5" fill="#3a3c45" stroke="#3a3c45" stroke-width="0.3" text-anchor="middle">May</text>
<text x="617.7" y="438" font-size="11.5" fill="#3a3c45" stroke="#3a3c45" stroke-width="0.3" text-anchor="middle">Jun</text>
<text x="749.7" y="438" font-size="11.5" fill="#3a3c45" stroke="#3a3c45" stroke-width="0.3" text-anchor="middle">Jul</text>
<text x="875.7" y="438" font-size="11.5" fill="#3a3c45" stroke="#3a3c45" stroke-width="0.3" text-anchor="middle">Aug</text>
</svg>
</body></html>
